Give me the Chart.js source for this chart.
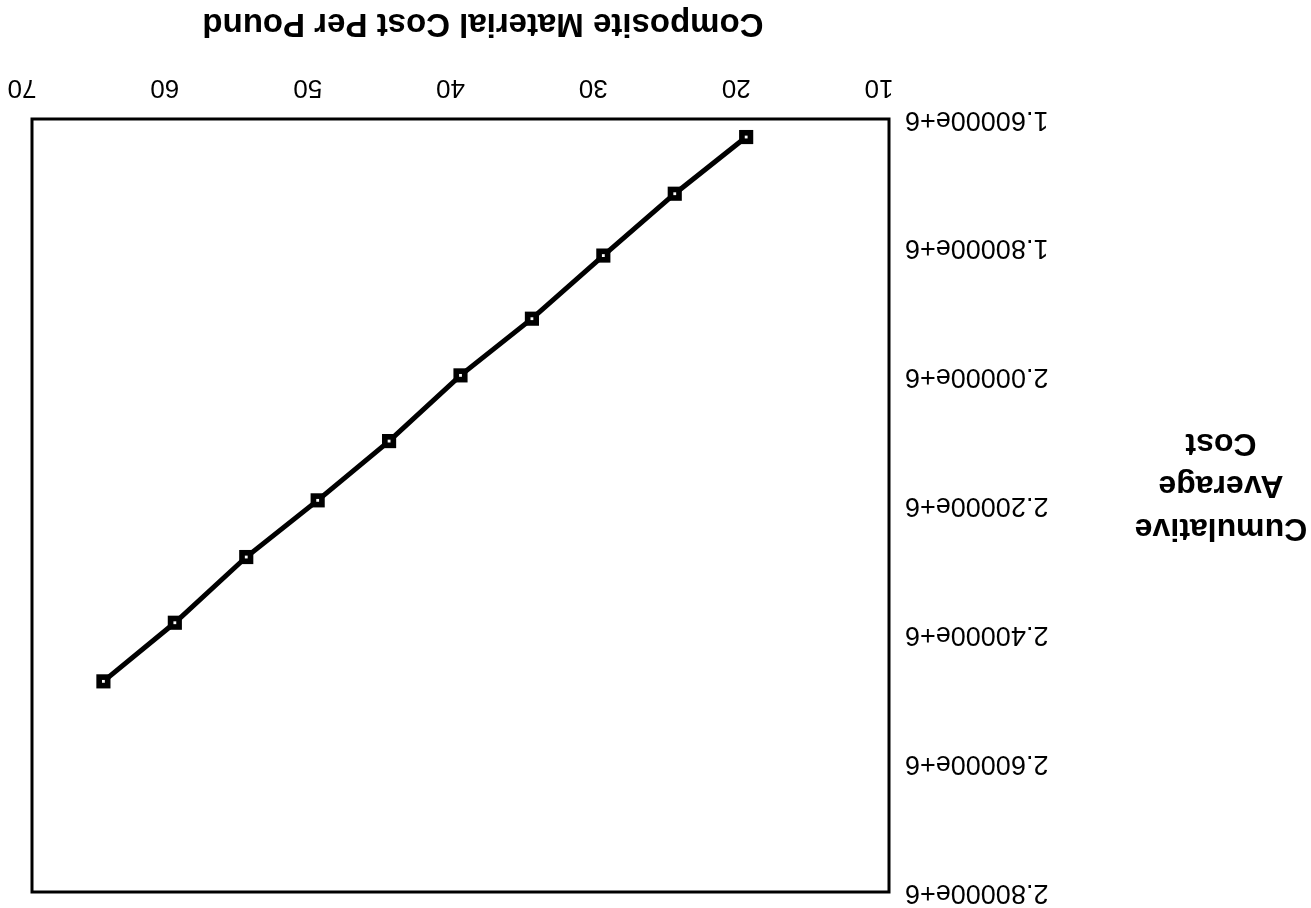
<!DOCTYPE html>
<html>
<head>
<meta charset="utf-8">
<script src="https://cdn.jsdelivr.net/npm/chart.js@4"></script>
<style>
	html, body { margin: 0; padding: 0; background: #fff; }
	#wrap { width: 1311px; height: 908px; transform: rotate(180deg); }
	canvas { display: block; background: #fff; }
</style>
</head>
<body>
<div id="wrap"><canvas id="costChart" width="1311" height="908"></canvas></div>
<script>
const materialCost = [20, 25, 30, 35, 40, 45, 50, 55, 60, 65];
const avgCost = [1628000, 1716000, 1812000, 1910000, 1998000, 2100000, 2192000, 2280000, 2382000, 2473000];
const xTicks = [10, 20, 30, 40, 50, 60, 70];
const yTicks = [1600000, 1800000, 2000000, 2200000, 2400000, 2600000, 2800000];
const xTitle = "Composite Material Cost Per Pound";
const yTitleLines = ["Cumulative", "Average", "Cost"];

const FONT = '"Liberation Sans", Arial, Helvetica, sans-serif';

const points = materialCost.map((x, i) => ({ x: x, y: avgCost[i] }));

// box around the plot + the two axis titles (y title is horizontal, 3 lines)
const framePlugin = {
	id: "frame",
	afterDraw(chart) {
		const { ctx, chartArea: a } = chart;
		ctx.save();
		ctx.lineWidth = 3;
		ctx.strokeStyle = "#000";
		ctx.strokeRect(a.left, a.top, a.right - a.left, a.bottom - a.top);
		ctx.fillStyle = "#000";
		ctx.font = "bold 33px " + FONT;
		ctx.textAlign = "center";
		ctx.textBaseline = "alphabetic";
		ctx.fillText(xTitle, 828, 894);
		ctx.font = "bold 32px " + FONT;
		yTitleLines.forEach((t, i) => ctx.fillText(t, 90, 389 + i * 42.5));
		ctx.restore();
	},
};

const ctx = document.getElementById("costChart").getContext("2d");
new Chart(ctx, {
	type: "scatter",
	data: {
		datasets: [
			{
				// small white centre of each marker
				data: points,
				showLine: false,
				pointStyle: "rect",
				pointRadius: 2,
				backgroundColor: "#fff",
				borderColor: "#fff",
				pointBorderWidth: 0,
				order: 0,
			},
			{
				data: points,
				showLine: true,
				borderColor: "#000",
				borderWidth: 5,
				pointStyle: "rect",
				pointRadius: 10,
				pointBackgroundColor: "#000",
				pointBorderColor: "#000",
				pointBorderWidth: 0,
				order: 1,
			},
		],
	},
	options: {
		responsive: false,
		animation: false,
		layout: { padding: { top: 16, right: 32, bottom: 0, left: 0 } },
		plugins: {
			legend: { display: false },
			tooltip: { enabled: false },
		},
		scales: {
			x: {
				type: "linear",
				min: xTicks[0],
				max: xTicks[xTicks.length - 1],
				afterBuildTicks: (scale) => { scale.ticks = xTicks.map((v) => ({ value: v })); },
				afterFit: (scale) => {
					scale.height = 119;
					scale.paddingLeft = 0;
					scale.paddingRight = 0;
				},
				grid: { display: false, drawTicks: false },
				border: { display: false },
				ticks: {
					color: "#000",
					font: { family: FONT, size: 26 },
					padding: 16,
					labelOffset: 10,
					maxRotation: 0,
				},
			},
			y: {
				type: "linear",
				min: yTicks[0],
				max: yTicks[yTicks.length - 1],
				afterBuildTicks: (scale) => { scale.ticks = yTicks.map((v) => ({ value: v })); },
				afterFit: (scale) => {
					scale.width = 422;
					scale.paddingTop = 0;
					scale.paddingBottom = 0;
				},
				grid: { display: false, drawTicks: false },
				border: { display: false },
				ticks: {
					color: "#000",
					font: { family: FONT, size: 27 },
					padding: 16,
					callback: (v) => (v / 1e6).toFixed(5) + "e+6",
				},
			},
		},
	},
	plugins: [framePlugin],
});
</script>
</body>
</html>
